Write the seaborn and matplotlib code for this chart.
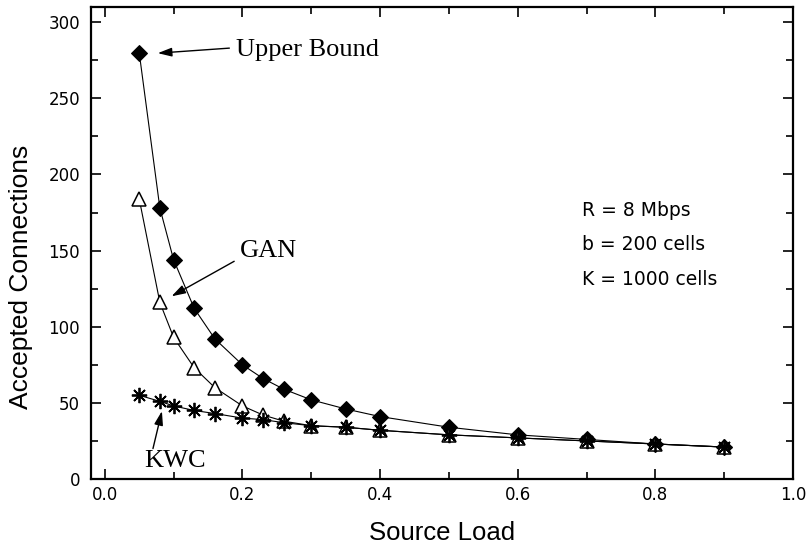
import matplotlib
matplotlib.use("Agg")
import matplotlib.pyplot as plt
from matplotlib.ticker import MultipleLocator
import seaborn as sns

# ── Data ──────────────────────────────────────────────────────────────────────
load = [0.05, 0.08, 0.10, 0.13, 0.16, 0.20, 0.23, 0.26, 0.30, 0.35, 0.40,
        0.50, 0.60, 0.70, 0.80, 0.90]
upper_bound = [280, 178, 144, 112, 92, 75, 66, 59, 52, 46, 41, 34, 29, 26, 23, 21]
gan = [184, 116, 93, 73, 60, 48, 42, 38, 35, 34, 32, 29, 27, 25, 23, 21]
kwc = [55, 51, 48, 45, 43, 40, 39, 37, 35, 34, 32, 29, 27, 25, 23, 21]

params = ["R = 8 Mbps", "b = 200 cells", "K = 1000 cells"]

# ── Style ─────────────────────────────────────────────────────────────────────
sns.set_theme(style="ticks")
plt.rcParams.update({
    "font.family": ["Liberation Sans", "DejaVu Sans"],
    "text.color": "black",
    "axes.labelcolor": "black",
    "axes.linewidth": 1.6,
    "axes.edgecolor": "black",
    "xtick.direction": "in",
    "ytick.direction": "in",
    "xtick.top": True,
    "ytick.right": True,
    "xtick.major.size": 7,
    "ytick.major.size": 7.5,
    "xtick.minor.size": 5,
    "ytick.minor.size": 5,
    "xtick.major.width": 1.2,
    "ytick.major.width": 1.2,
    "xtick.minor.width": 1.2,
    "ytick.minor.width": 1.2,
    "xtick.major.pad": 5,
    "ytick.major.pad": 8,
    "xtick.color": "black",
    "ytick.color": "black",
})

fig = plt.figure(figsize=(8.07, 5.48), dpi=100)
ax = fig.add_axes([0.1128, 0.1259, 0.8699, 0.8613])

line_kw = dict(color="black", linewidth=0.8)
sns.lineplot(x=load, y=upper_bound, ax=ax, marker="D", markersize=8.5,
             markerfacecolor="black", markeredgecolor="black", **line_kw)
sns.lineplot(x=load, y=gan, ax=ax, marker="^", markersize=10,
             markerfacecolor="white", markeredgecolor="black",
             markeredgewidth=1.1, **line_kw)
sns.lineplot(x=load, y=kwc, ax=ax, marker=(8, 2, 0), markersize=11,
             markeredgecolor="black", markeredgewidth=1.3, **line_kw)

ax.set_xlim(-0.02, 1.0)
ax.set_ylim(0, 310)
ax.xaxis.set_major_locator(MultipleLocator(0.2))
ax.xaxis.set_minor_locator(MultipleLocator(0.1))
ax.yaxis.set_major_locator(MultipleLocator(50))
ax.yaxis.set_minor_locator(MultipleLocator(25))
ax.xaxis.set_major_formatter(plt.FuncFormatter(lambda v, _: f"{v:.1f}"))
ax.tick_params(which="both", top=True, right=True)
for lab in ax.get_xticklabels() + ax.get_yticklabels():
    lab.set_family("DejaVu Sans")
    lab.set_fontsize(12)

ax.set_xlabel("Source Load", fontsize=18.5, labelpad=12)
ax.set_ylabel("Accepted Connections", fontsize=19)
ax.yaxis.set_label_coords(-0.083, 0.428)

# curve labels (serif, like the original)
serif = ["Liberation Serif", "DejaVu Serif"]
arrow = dict(arrowstyle="-|>,head_length=0.7,head_width=0.22",
             color="black", lw=1.0, shrinkA=0, shrinkB=0)

ax.text(0.191, 282, "Upper Bound", family=serif, fontsize=19,
        ha="left", va="center")
ax.annotate("", xy=(0.077, 279.7), xytext=(0.181, 283), arrowprops=arrow)

ax.text(0.196, 150, "GAN", family=serif, fontsize=19, ha="left", va="center")
ax.annotate("", xy=(0.097, 120), xytext=(0.188, 143), arrowprops=arrow)

ax.text(0.058, 12, "KWC", family=serif, fontsize=19, ha="left", va="center")
ax.annotate("", xy=(0.083, 44.6), xytext=(0.070, 20), arrowprops=arrow)

for yv, txt in zip([176.6, 154.3, 131.3], params):
    ax.text(0.693, yv, txt, family="DejaVu Sans", fontsize=13.5,
            ha="left", va="center")

fig.savefig("out.png", dpi=100)
